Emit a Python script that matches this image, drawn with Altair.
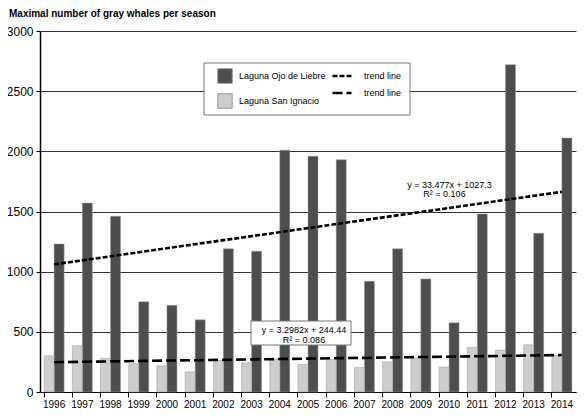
import pandas as pd
import altair as alt

years = [str(y) for y in range(1996, 2015)]
ojo_de_liebre = [1230, 1570, 1460, 750, 720, 600, 1190, 1170, 2010, 1960,
                 1930, 920, 1190, 940, 575, 1480, 2720, 1320, 2110]
san_ignacio = [300, 385, 280, 235, 218, 167, 262, 243, 275, 230,
               272, 203, 250, 285, 208, 370, 348, 392, 305]

# Excel-style linear trend lines, end points (1996 and 2014)
trend_years = ["1996", "2014"]
ojo_trend = [1060.8, 1663.4]
si_trend = [247.7, 307.1]

OJO = "Laguna Ojo de Liebre"
SI = "Laguna San Ignacio"
FONT = "Liberation Sans"

bars_df = pd.DataFrame({
    "year": years * 2,
    "lagoon": [OJO] * len(years) + [SI] * len(years),
    "count": ojo_de_liebre + san_ignacio,
})
trend_df = pd.DataFrame({
    "year": trend_years * 2,
    "trend": ["ojo"] * 2 + ["si"] * 2,
    "value": ojo_trend + si_trend,
})
one = pd.DataFrame({"k": [0]})

x_enc = alt.X("year:N", title=None,
              scale=alt.Scale(paddingInner=0.29, paddingOuter=0.145),
              axis=alt.Axis(labelAngle=0, labelFontSize=10, labelFont=FONT,
                            labelColor="black", bandPosition=0, tickSize=5,
                            tickColor="black", domainColor="black",
                            labelPadding=2, grid=False))
y_enc = alt.Y("count:Q", title=None,
              scale=alt.Scale(domain=[0, 3000], nice=False),
              axis=alt.Axis(values=list(range(0, 3001, 500)), format="d",
                            labelFontSize=12, labelFont=FONT, labelColor="black",
                            tickSize=4, tickColor="black", domainColor="black",
                            domainWidth=1.5, gridColor="#333333", gridWidth=1,
                            labelPadding=3))

bars = alt.Chart(bars_df).mark_bar(stroke="#9a9a9a", strokeWidth=0.5).encode(
    x=x_enc,
    xOffset=alt.XOffset("lagoon:N", sort=[SI, OJO],
                        scale=alt.Scale(paddingInner=0, paddingOuter=0)),
    y=y_enc,
    color=alt.Color("lagoon:N",
                    scale=alt.Scale(domain=[OJO, SI], range=["#4e4e4e", "#cdcdcd"]),
                    legend=alt.Legend(orient="none", legendX=177, legendY=37, title=None,
                                      symbolType="square", symbolSize=210,
                                      symbolStrokeColor="#888888", symbolStrokeWidth=0.8,
                                      labelFontSize=9, labelFont=FONT, labelColor="black",
                                      labelOffset=6, rowPadding=7, padding=0)),
)

trend = alt.Chart(trend_df).mark_line(color="black", strokeWidth=2.6).encode(
    x=alt.X("year:N"),
    y=alt.Y("value:Q"),
    detail="trend:N",
    strokeDash=alt.StrokeDash("trend:N",
                              scale=alt.Scale(domain=["ojo", "si"], range=[[5, 2], [10, 4]]),
                              legend=alt.Legend(orient="none", legendX=291, legendY=34, title=None,
                                                symbolType="stroke", symbolSize=361,
                                                symbolStrokeWidth=2.5, symbolStrokeColor="black",
                                                labelExpr="'trend line'", labelFontSize=9,
                                                labelFont=FONT, labelColor="black",
                                                labelOffset=11, rowPadding=1, padding=0)),
)

legend_box = alt.Chart(one).mark_rect(fill="white", stroke="#777777", strokeWidth=1).encode(
    x=alt.value(164), x2=alt.value(370), y=alt.value(32), y2=alt.value(84))

eq_box = alt.Chart(one).mark_rect(fill="white", stroke="#777777", strokeWidth=1).encode(
    x=alt.value(211), x2=alt.value(311), y=alt.value(290), y2=alt.value(314))


def label(text, px, py, size=9, weight="normal", align="center", baseline="middle"):
    return alt.Chart(one).mark_text(text=text, font=FONT, fontSize=size, fontWeight=weight,
                                    color="black", align=align, baseline=baseline).encode(
        x=alt.value(px), y=alt.value(py))


title = label("Maximal number of gray whales per season", -31, -14,
              size=10, weight="bold", align="left", baseline="alphabetic")

chart = alt.layer(
    bars, trend, eq_box, legend_box,
    label("y = 3.2982x + 244.44", 264, 299),
    label("R\u00b2 = 0.086", 264, 308.5),
    label("y = 33.477x + 1027.3", 409.5, 153.5),
    label("R\u00b2 = 0.106", 404.5, 163),
    title,
).resolve_scale(
    color="independent"
).properties(
    width=536, height=361,
    autosize=alt.AutoSizeParams(type="none"),
    padding={"left": 32, "top": 23, "right": 1, "bottom": 18},
).configure_view(stroke=None)

chart.save("out.html", embed_options={"renderer": "svg", "actions": False})
